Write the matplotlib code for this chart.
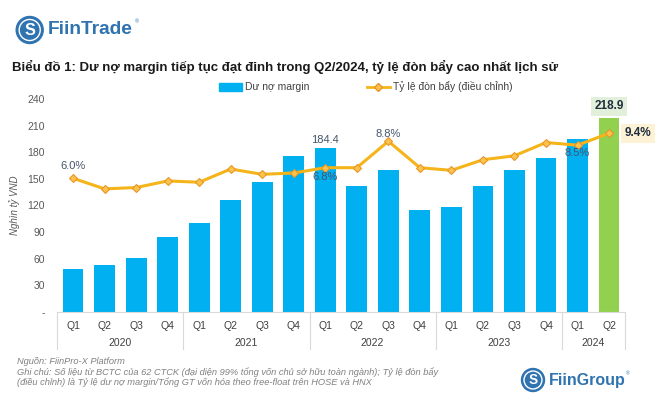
import matplotlib
matplotlib.use("Agg")
import matplotlib.pyplot as plt
from matplotlib.lines import Line2D
from matplotlib.patches import Patch, Circle
import matplotlib.transforms as mtransforms

plt.rcParams['font.family'] = ['Liberation Sans', 'DejaVu Sans']

quarters = ['Q1', 'Q2', 'Q3', 'Q4'] * 4 + ['Q1', 'Q2']
years = ['2020', '2021', '2022', '2023', '2024']
year_counts = [4, 4, 4, 4, 2]
margin = [47.8, 52.7, 60.9, 84.6, 100.4, 125.7, 146.3, 175.7,
          184.4, 141.8, 160.2, 115.1, 118.1, 141.8, 159.5, 173.1, 195.2, 218.9]
ratio = [6.0, 5.2, 5.3, 5.8, 5.7, 6.7, 6.3, 6.4,
         6.8, 6.8, 8.8, 6.8, 6.6, 7.4, 7.7, 8.7, 8.5, 9.4]
yticks = [0, 30, 60, 90, 120, 150, 180, 210, 240]
ytick_labels = ['-', '30', '60', '90', '120', '150', '180', '210', '240']

W, H = 669, 404
fig = plt.figure(figsize=(W / 100, H / 100), dpi=100)
fig.patch.set_facecolor('white')

def fx(px):
    return px / W

def fy(py):
    return 1 - py / H

ax_left, ax_right, ax_top, ax_bot = 57.3, 624.8, 99.0, 311.7
ax = fig.add_axes([fx(ax_left), fy(ax_bot), fx(ax_right - ax_left), (ax_bot - ax_top) / H])
n = len(margin)
x = list(range(n))
colors = ['#00b0f0'] * (n - 1) + ['#92d050']
ax.bar(x, margin, width=0.66, color=colors, zorder=2)
ax.set_xlim(-0.5, n - 0.5)
ax.set_ylim(0, 240)
ax.set_yticks(yticks)
ax.set_yticklabels(ytick_labels, fontsize=7.5, color='#595959')
ax.tick_params(axis='y', length=0, pad=9)
ax.set_xticks(x)
ax.set_xticklabels(quarters, fontsize=7.5, color='#404040')
ax.tick_params(axis='x', length=0, pad=7)
for s in ['top', 'right', 'left']:
    ax.spines[s].set_visible(False)
ax.spines['bottom'].set_color('#d9d9d9')
ax.spines['bottom'].set_linewidth(0.8)
ax.set_ylabel('Nghìn tỷ VND', fontsize=7, style='italic', color='#595959', labelpad=5)

# year labels and separators
trans = mtransforms.blended_transform_factory(ax.transData, ax.transAxes)
start = -0.5
bounds = [start]
for yr, c in zip(years, year_counts):
    mid = start + c / 2
    ax.text(mid, -0.148, yr, transform=trans, ha='center', va='center', fontsize=7.5, color='#404040')
    start += c
    bounds.append(start)
for b in bounds:
    ax.plot([b, b], [0, -0.175], transform=trans, color='#d9d9d9', lw=0.8, clip_on=False)

# bar labels
ax.text(8, margin[8] + 4, f'{margin[8]:.1f}', ha='center', va='bottom', fontsize=8, color='#44546a')
ax.text(17, margin[17] + 6, f'{margin[17]:.1f}', ha='center', va='bottom', fontsize=8.5,
        fontweight='bold', color='#1f2d3d',
        bbox=dict(boxstyle='square,pad=0.3', fc='#e2efda', ec='none'))

# secondary axis (hidden)
ax2 = ax.twinx()
ax2.set_ylim(-4.08, 11.99)
ax2.plot(x, ratio, color='#f4b41a', lw=2.2, marker='D', markersize=4.5,
         markerfacecolor='#fbc34a', markeredgecolor='#e8962a', markeredgewidth=0.8, zorder=3)
ax2.axis('off')
lab_col = '#44546a'
ax2.text(0, ratio[0] + 0.55, f'{ratio[0]:.1f}%', ha='center', va='bottom', fontsize=8, color=lab_col)
ax2.text(8, ratio[8] - 0.3, f'{ratio[8]:.1f}%', ha='center', va='top', fontsize=8, color=lab_col)
ax2.text(10, ratio[10] + 0.15, f'{ratio[10]:.1f}%', ha='center', va='bottom', fontsize=8, color=lab_col)
ax2.text(16, ratio[16] - 0.2, f'{ratio[16]:.1f}%', ha='center', va='top', fontsize=8, color=lab_col)
ax2.text(17.5, ratio[17], f'{ratio[17]:.1f}%', ha='left', va='center', fontsize=8.5,
         fontweight='bold', color='#1f2d3d',
         bbox=dict(boxstyle='square,pad=0.3', fc='#fdf2d6', ec='none'))

# legend
handles = [Patch(color='#00b0f0', label='Dư nợ margin'),
           Line2D([0], [0], color='#f4b41a', lw=2, marker='D', markersize=4,
                  markerfacecolor='#fbc34a', markeredgecolor='#e8962a', label='Tỷ lệ đòn bẩy (điều chỉnh)')]
fig.legend(handles=handles, loc='center', bbox_to_anchor=(fx(366), fy(87)), ncol=2, frameon=False,
           fontsize=7.5, handlelength=2.2, handleheight=0.7, handletextpad=0.3, columnspacing=5.5,
           labelcolor='#404040')

# title
fig.text(fx(12), fy(67), 'Biểu đồ 1: Dư nợ margin tiếp tục đạt đỉnh trong Q2/2024, tỷ lệ đòn bẩy cao nhất lịch sử',
         fontsize=9.5, fontweight='bold', color='#1a1a1a', ha='left', va='center')

# footnotes
fn_col = '#808080'
fig.text(fx(17), fy(362), 'Nguồn: FiinPro-X Platform', fontsize=6.7, style='italic', color=fn_col, va='center')
fig.text(fx(17), fy(372), 'Ghi chú: Số liệu từ BCTC của 62 CTCK (đại diện 99% tổng vốn chủ sở hữu toàn ngành); Tỷ lệ đòn bẩy',
         fontsize=6.7, style='italic', color=fn_col, va='center')
fig.text(fx(17), fy(382), '(điều chỉnh) là Tỷ lệ dư nợ margin/Tổng GT vốn hóa theo free-float trên HOSE và HNX',
         fontsize=6.7, style='italic', color=fn_col, va='center')

# logos
ov = fig.add_axes([0, 0, 1, 1], zorder=5)
ov.set_xlim(0, W)
ov.set_ylim(H, 0)
ov.axis('off')
ov.patch.set_alpha(0)
logo_blue = '#2f73b0'

def logo(cx, cy, r, text, tx, fs):
    ov.add_patch(Circle((cx, cy), r, color=logo_blue))
    ov.add_patch(Circle((cx, cy), r * 0.78, fill=False, ec='white', lw=1.0))
    ov.text(cx, cy + 0.5, 'S', ha='center', va='center', color='white', fontsize=fs * 0.85, fontweight='bold')
    ov.text(tx, cy, text, ha='left', va='center', color=logo_blue, fontsize=fs, fontweight='bold')

logo(29.7, 30, 13.5, 'FiinTrade', 48, 13.8)
ov.text(135, 22, '®', fontsize=4, color=logo_blue, ha='left', va='center')
logo(533, 380, 11.5, 'FiinGroup', 549, 11.5)
ov.text(626, 374, '®', fontsize=3.5, color=logo_blue, ha='left', va='center')

fig.savefig('out.png', dpi=100, facecolor='white')
